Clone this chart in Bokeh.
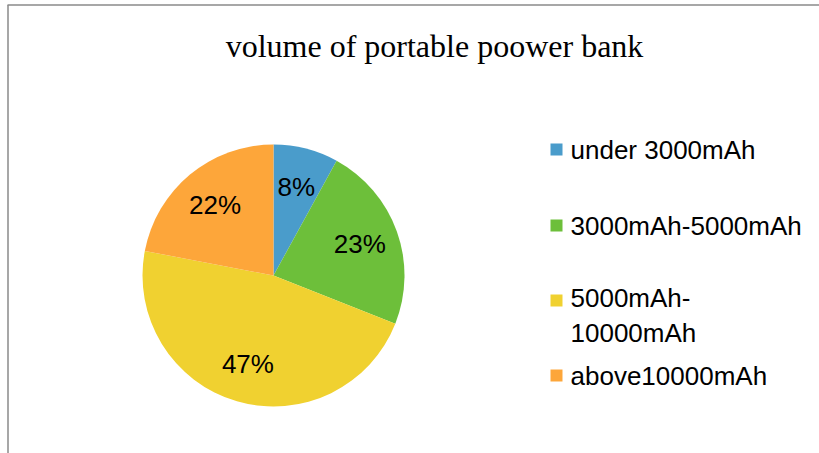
import math
from bokeh.plotting import figure
from bokeh.models import Range1d, ColumnDataSource
from bokeh.core.properties import value
from bokeh.embed import file_html
from bokeh.resources import INLINE

# ---- data ----
title_text = "volume of portable poower bank"
categories = ["under 3000mAh", "3000mAh-5000mAh", "5000mAh-10000mAh", "above10000mAh"]
legend_labels = ["under 3000mAh", "3000mAh-5000mAh", "5000mAh-\n10000mAh", "above10000mAh"]
shares = [8, 23, 47, 22]
colors = ["#4A9CCB", "#6DBF3A", "#F0D130", "#FDA63A"]

# ---- layout ----
W, H = 819, 453
CX, CY, R = 273, 275, 131
LABEL_FRAC = 0.70
LEG_X = 556
LEG_TEXT_X = 570
LEG_ROWS = [149, 225, 300, 375]
LEG_LINE_PX = 30

def fy(y):
    return H - y

p = figure(width=W, height=H, output_backend="svg", toolbar_location=None,
           x_range=Range1d(0, W), y_range=Range1d(0, H), min_border=0)
p.axis.visible = False
p.grid.visible = False
p.outline_line_color = None
p.background_fill_color = "white"
p.border_fill_color = "white"

# chart frame (cut by the window at right and bottom)
p.line(x=[7.5, 7.5], y=[fy(H + 5), fy(4.5)], line_color="#8a8a8a", line_width=1.5)
p.line(x=[7, W + 5], y=[fy(4.5), fy(4.5)], line_color="#8a8a8a", line_width=1.5)

total = float(sum(shares))
starts, ends, lx, ly, pct = [], [], [], [], []
cum = 0.0
for s in shares:
    a0 = math.pi / 2 - 2 * math.pi * cum / total
    a1 = math.pi / 2 - 2 * math.pi * (cum + s) / total
    mid = (a0 + a1) / 2
    starts.append(a0)
    ends.append(a1)
    lx.append(CX + LABEL_FRAC * R * math.cos(mid))
    ly.append(fy(CY) + LABEL_FRAC * R * math.sin(mid))
    pct.append(f"{round(100 * s / total)}%")
    cum += s

src = ColumnDataSource(dict(start=starts, end=ends, color=colors, cat=categories))
p.wedge(x=CX, y=fy(CY), radius=R, start_angle="start", end_angle="end",
        direction="clock", fill_color="color", line_color=None, source=src)

p.text(x=lx, y=ly, text=pct, text_align="center", text_baseline="middle",
       text_font=value("Liberation Sans"), text_font_size="26px", text_color="black")

# legend
p.scatter(x=[LEG_X] * len(categories), y=[fy(y) for y in LEG_ROWS], marker="square",
          size=12, fill_color=colors, line_color=None)
text_y = [fy(y + (lab.count("\n")) * LEG_LINE_PX / 2) for y, lab in zip(LEG_ROWS, legend_labels)]
p.text(x=[LEG_TEXT_X] * len(categories), y=text_y, text=legend_labels,
       text_align="left", text_baseline="middle", text_line_height=LEG_LINE_PX / 26,
       text_font=value("Liberation Sans"), text_font_size="26px", text_color="black")

# title
p.text(x=[434], y=[fy(45)], text=[title_text], text_align="center", text_baseline="middle",
       text_font=value("Liberation Serif"), text_font_size="32px", text_color="black")

open("out.html", "w").write(file_html(p, INLINE))
